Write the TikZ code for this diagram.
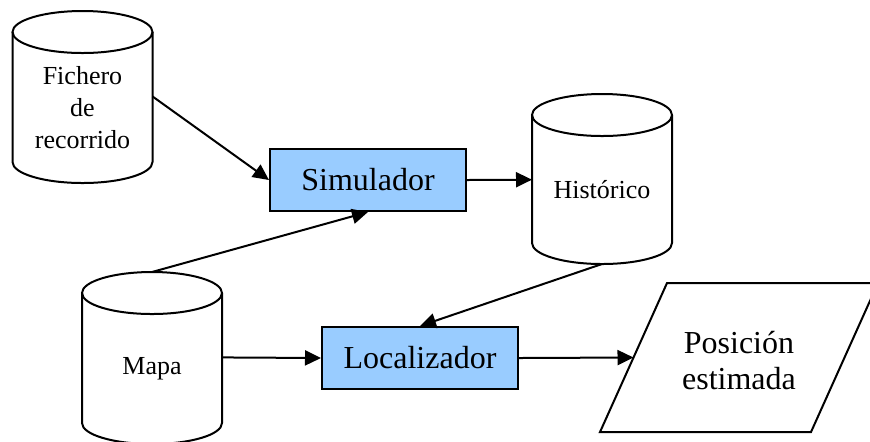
\documentclass[tikz,border=0pt]{standalone}
\usepackage{fontspec}
\setmainfont{Liberation Serif}
\usetikzlibrary{calc,arrows.meta}
\begin{document}
\begin{tikzpicture}[x=0.5pt,y=-0.5pt,line width=1pt,>={Triangle[length=8pt,width=7.5pt]},
  store/.style={minimum width=70pt,inner sep=0pt,outer sep=0pt,align=center,
    font=\fontsize{13}{16}\selectfont},
  proc/.style={draw,fill=boxblue,minimum width=98pt,minimum height=31pt,inner sep=1pt,
    font=\fontsize{16}{18}\selectfont},
  iotext/.style={align=center,inner sep=1pt,font=\fontsize{16}{18}\selectfont}]
\definecolor{boxblue}{RGB}{153,204,255}
\useasboundingbox (0,0) rectangle (870,441);
% almacenes (cuerpo visible del cilindro)
\node[store,minimum height=54.5pt] (fich) at (82.5,107.5) {Fichero\\de\\recorrido};
\node[store,minimum height=53.5pt] (hist) at (602,189.5) {Hist\'orico};
\node[store,minimum height=54.5pt] (mapa) at (152,368.5) {Mapa};
\foreach \n in {fich,hist,mapa} {
  \draw ([yshift=10.5pt]\n.north west) -- (\n.south west)
    arc[start angle=180,end angle=360,x radius=35pt,y radius=10.5pt]
    -- ([yshift=10.5pt]\n.north east);
  \draw ([yshift=10.5pt]\n.north) ellipse[x radius=35pt,y radius=10.5pt];
}
% procesos
\node[proc] (sim) at (368,180) {Simulador};
\node[proc] (loc) at (420,358) {Localizador};
% salida
\node[iotext] (pos) at (739,361) {Posici\'on\\estimada};
\coordinate (pos-bl) at (600,432); \coordinate (pos-tl) at (667,283);
\draw (pos-bl) -- (pos-tl) -- (878,283) -- (811,432) -- cycle;
\coordinate (pos-in) at ($(pos-bl)!.5!(pos-tl)$);
% flujos
\draw[->] (fich.9) -- (sim.west);
\draw[->] ([yshift=21pt]mapa.north) -- (sim.south);
\draw[->] (sim.east) -- (hist.172);
\draw[->] ([yshift=-10.5pt]hist.south) -- (loc.north);
\draw[->] (mapa.9) -- (loc.west);
\draw[->] (loc.east) -- (pos-in);
\end{tikzpicture}
\end{document}
